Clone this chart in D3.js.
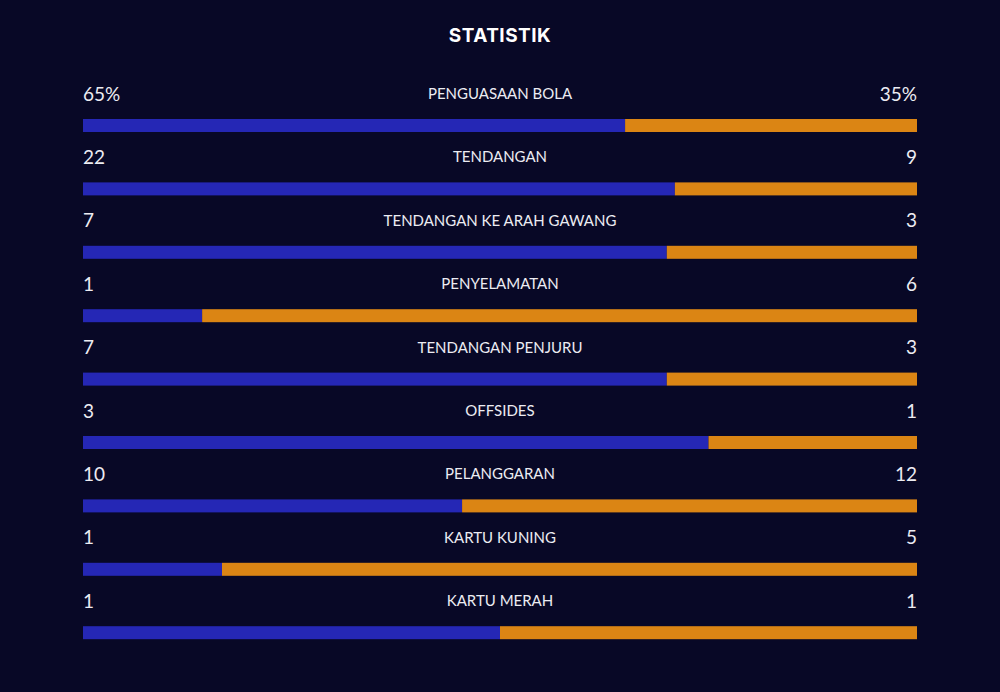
<!DOCTYPE html>
<html>
<head>
<meta charset="utf-8">
<script src="https://cdn.jsdelivr.net/npm/d3@7"></script>
<style>
  html, body { margin: 0; padding: 0; background: #080826; }
  svg { display: block; }
</style>
</head>
<body>
<svg id="chart" width="1000" height="692"></svg>
<script>
// stats per row
var categories = ['PENGUASAAN BOLA', 'TENDANGAN', 'TENDANGAN KE ARAH GAWANG', 'PENYELAMATAN',
    'TENDANGAN PENJURU', 'OFFSIDES', 'PELANGGARAN', 'KARTU KUNING', 'KARTU MERAH'];
var homeValues = [65, 22, 7, 1, 7, 3, 10, 1, 1];
var awayValues = [35, 9, 3, 6, 3, 1, 12, 5, 1];
var homeLabels = ['65%', '22', '7', '1', '7', '3', '10', '1', '1'];
var awayLabels = ['35%', '9', '3', '6', '3', '1', '12', '5', '1'];

var svg = d3.select('#chart');
var left = 83, right = 917;
var barH = 13;

svg.append('text')
    .attr('x', 500).attr('y', 42)
    .attr('text-anchor', 'middle')
    .attr('fill', '#ffffff')
    .style('font-family', 'Inter, "Open Sans", sans-serif')
    .style('font-weight', 700)
    .style('font-size', '19px')
    .style('letter-spacing', '0.5px')
    .text('STATISTIK');

var y = d3.scaleBand()
    .domain(categories)
    .range([119, 119 + 63.4 * categories.length])
    .paddingInner(0);

var rows = svg.selectAll('g.row')
    .data(categories)
    .enter().append('g')
    .attr('class', 'row')
    .attr('transform', function(d) { return 'translate(0,' + y(d) + ')'; });

rows.each(function(d, i) {
    var g = d3.select(this);
    var total = homeValues[i] + awayValues[i];
    var x = d3.scaleLinear().domain([0, total]).range([left, right]);

    g.append('rect')
        .attr('x', x(0)).attr('y', 0)
        .attr('width', x(homeValues[i]) - x(0)).attr('height', barH)
        .attr('fill', '#2527b5');
    g.append('rect')
        .attr('x', x(homeValues[i])).attr('y', 0)
        .attr('width', x(total) - x(homeValues[i])).attr('height', barH)
        .attr('fill', '#db8514');

    g.append('text')
        .attr('x', left).attr('y', -18.5)
        .attr('fill', '#ececf2')
        .style('font-family', 'Lato, sans-serif')
        .style('font-size', '19px')
        .text(homeLabels[i]);
    g.append('text')
        .attr('x', right).attr('y', -18.5)
        .attr('text-anchor', 'end')
        .attr('fill', '#ececf2')
        .style('font-family', 'Lato, sans-serif')
        .style('font-size', '19px')
        .text(awayLabels[i]);
    g.append('text')
        .attr('x', 500).attr('y', -20)
        .attr('text-anchor', 'middle')
        .attr('fill', '#ececf2')
        .style('font-family', 'Lato, sans-serif')
        .style('font-size', '15px')
        .text(d);
});
</script>
</body>
</html>
